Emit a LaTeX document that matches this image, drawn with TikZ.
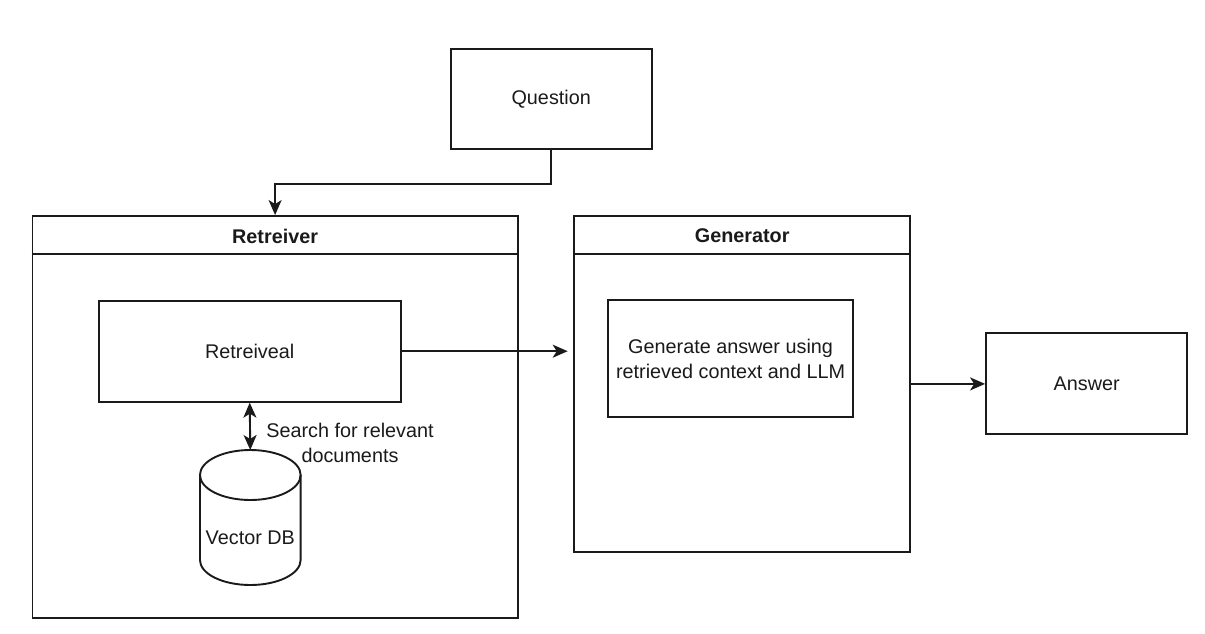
\documentclass[tikz,border=0pt]{standalone}
\usepackage{fontspec}
\setmainfont{Liberation Sans}
\usetikzlibrary{arrows.meta}
\definecolor{ink}{HTML}{1A1A1A}
\tikzset{
  box/.style={draw=ink, line width=1.9pt, rectangle, inner sep=0pt, text=ink,
    font=\fontsize{19.8}{25}\selectfont, align=center},
  plain/.style={inner sep=0pt, text=ink, font=\fontsize{19.8}{25}\selectfont, align=center},
  title/.style={inner sep=0pt, text=ink, font=\fontsize{19.8}{25}\selectfont\bfseries},
  wire/.style={draw=ink, line width=1.9pt},
  arr/.style={wire, -{Stealth[length=15pt, width=13pt, inset=4pt]}},
  darr/.style={wire, {Stealth[length=15pt, width=13pt, inset=4pt]}-{Stealth[length=15pt, width=13pt, inset=4pt]}}
}
\begin{document}
\begin{tikzpicture}[x=1pt, y=-1pt]
\useasboundingbox (0,0) rectangle (1205,633);
% containers
\node[box, minimum width=485.2pt, minimum height=402pt] (ret) at (275.1,417) {};
\node[box, minimum width=335.7pt, minimum height=335.7pt] (gen) at (742.2,383.9) {};
\draw[wire] ([yshift=-38.5pt]ret.north west) -- ([yshift=-38.5pt]ret.north east);
\draw[wire] ([yshift=-38.5pt]gen.north west) -- ([yshift=-38.5pt]gen.north east);
\node[title] (rettitle) at (275.1,236) {Retreiver};
\node[title] (gentitle) at (742.2,236) {Generator};
% boxes
\node[box, minimum width=201pt, minimum height=100pt] (q) at (551.2,99.2) {Question};
\node[box, minimum width=302pt, minimum height=101pt] (rl) at (249.7,351.2) {Retreiveal};
\node[box, minimum width=245pt, minimum height=117pt] (gbox) at (730.6,358.5) {Generate answer using\\retrieved context and LLM};
\node[box, minimum width=201.3pt, minimum height=101pt] (ans) at (1086.7,383.9) {Answer};
% cylinder
\coordinate (dbtop) at (250.3,450);
\draw[wire] (250.3,475) ellipse [x radius=50.35pt, y radius=25pt];
\draw[wire] (199.95,475) -- (199.95,560) arc[start angle=180, end angle=360, x radius=50.35pt, y radius=25pt] -- (300.65,475);
\node[plain] (db) at (250.3,538) {Vector DB};
\node[plain] (search) at (350,442.5) {Search for relevant\\documents};
% connectors
\coordinate (gtip) at (567.7,351.2);
\draw[arr] (q.south) -- ++(0,34) -| (ret.north);
\draw[arr] (rl.east) -- (gtip);
\draw[arr] (gen.east) -- (ans.west);
\draw[darr] (rl.south) -- (dbtop);
\end{tikzpicture}
\end{document}
